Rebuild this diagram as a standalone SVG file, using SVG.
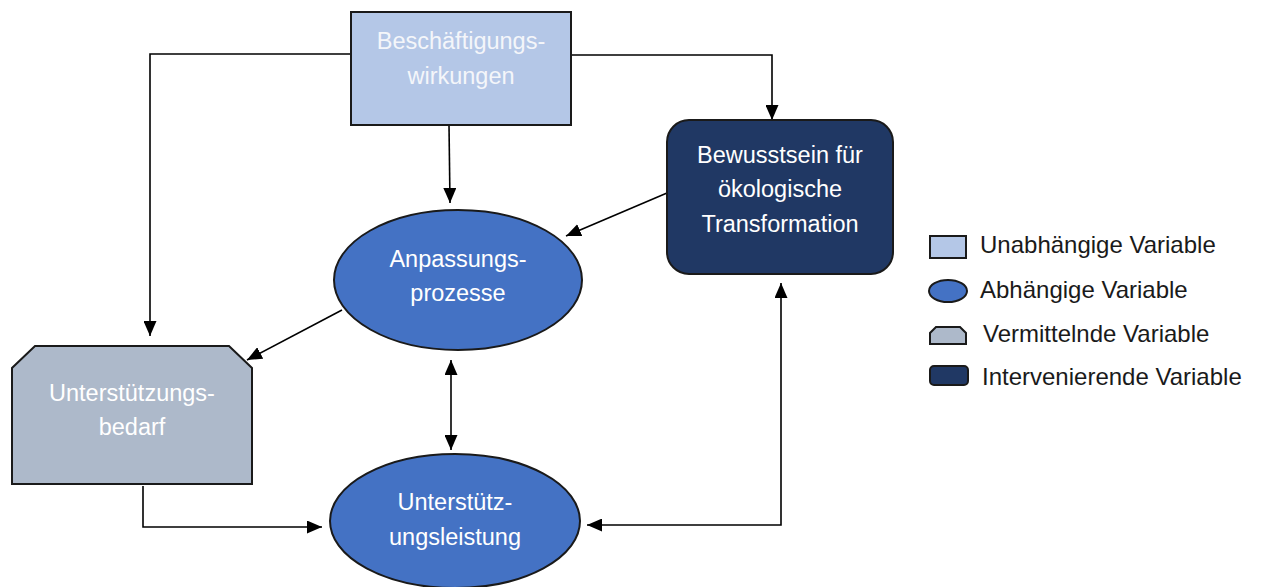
<svg xmlns="http://www.w3.org/2000/svg" width="1261" height="587" viewBox="0 0 1261 587">
<style>
.node{stroke:#1a1a1a;stroke-width:2}
.ind{fill:#B4C7E7}
.dep{fill:#4472C4}
.med{fill:#ADB9CA}
.int{fill:#203864}
.t{font-family:"Liberation Sans",Arial,sans-serif;font-size:23.5px;fill:#ffffff;text-anchor:middle}
.t2{fill:#f4f6fa}
.lg{font-family:"Liberation Sans",Arial,sans-serif;font-size:24px;fill:#1a1a1a}
.c{fill:none;stroke:#000;stroke-width:1.6}
</style>
<defs>
<marker id="ah" viewBox="0 0 15 13" refX="15" refY="6.5" markerWidth="15" markerHeight="13" markerUnits="userSpaceOnUse" orient="auto-start-reverse">
<path d="M0,0 L15,6.5 L0,13 Z" fill="#000"/>
</marker>
</defs>
<rect width="1261" height="587" fill="#ffffff"/>
<g id="connectors">
<path class="c" d="M351,54 H150 V336" marker-end="url(#ah)"/>
<path class="c" d="M571,55 H772 V120" marker-end="url(#ah)"/>
<path class="c" d="M449,125 L450,203" marker-end="url(#ah)"/>
<path class="c" d="M667,193 L566,236" marker-end="url(#ah)"/>
<path class="c" d="M342,310 L247,360" marker-end="url(#ah)"/>
<path class="c" d="M451,360 L451,450" marker-start="url(#ah)" marker-end="url(#ah)"/>
<path class="c" d="M143,486 V527 H322" marker-end="url(#ah)"/>
<path class="c" d="M587,525 H781 V283" marker-start="url(#ah)" marker-end="url(#ah)"/>
</g>
<g id="node-beschaeftigung">
<rect class="node ind" x="351" y="12" width="220" height="113"/>
<text class="t t2" x="461" y="49">Beschäftigungs-</text>
<text class="t t2" x="461" y="84">wirkungen</text>
</g>
<g id="node-bewusstsein">
<rect class="node int" x="667" y="120" width="226" height="154" rx="22" ry="22"/>
<text class="t" x="780" y="163">Bewusstsein für</text>
<text class="t" x="780" y="197">ökologische</text>
<text class="t" x="780" y="232">Transformation</text>
</g>
<g id="node-anpassung">
<ellipse class="node dep" cx="458" cy="280" rx="124" ry="70"/>
<text class="t" x="458" y="267">Anpassungs-</text>
<text class="t" x="458" y="301">prozesse</text>
</g>
<g id="node-bedarf">
<path class="node med" d="M35,346 H229 L252,368 V484 H12 V368 Z"/>
<text class="t" x="132" y="401">Unterstützungs-</text>
<text class="t" x="132" y="435">bedarf</text>
</g>
<g id="node-leistung">
<ellipse class="node dep" cx="455" cy="521" rx="125" ry="67"/>
<text class="t" x="455" y="510">Unterstütz-</text>
<text class="t" x="455" y="545">ungsleistung</text>
</g>
<g id="legend">
<rect class="node ind" x="930" y="236" width="36" height="22"/>
<ellipse class="node dep" cx="948" cy="291" rx="19" ry="11"/>
<path class="node med" d="M936,327 H960 L966,333 V344 H930 V333 Z"/>
<rect class="node int" x="930" y="366" width="38" height="19" rx="4" ry="4"/>
<text class="lg" x="980" y="253">Unabhängige Variable</text>
<text class="lg" x="980" y="298">Abhängige Variable</text>
<text class="lg" x="983" y="342">Vermittelnde Variable</text>
<text class="lg" x="982" y="385">Intervenierende Variable</text>
</g>
</svg>
